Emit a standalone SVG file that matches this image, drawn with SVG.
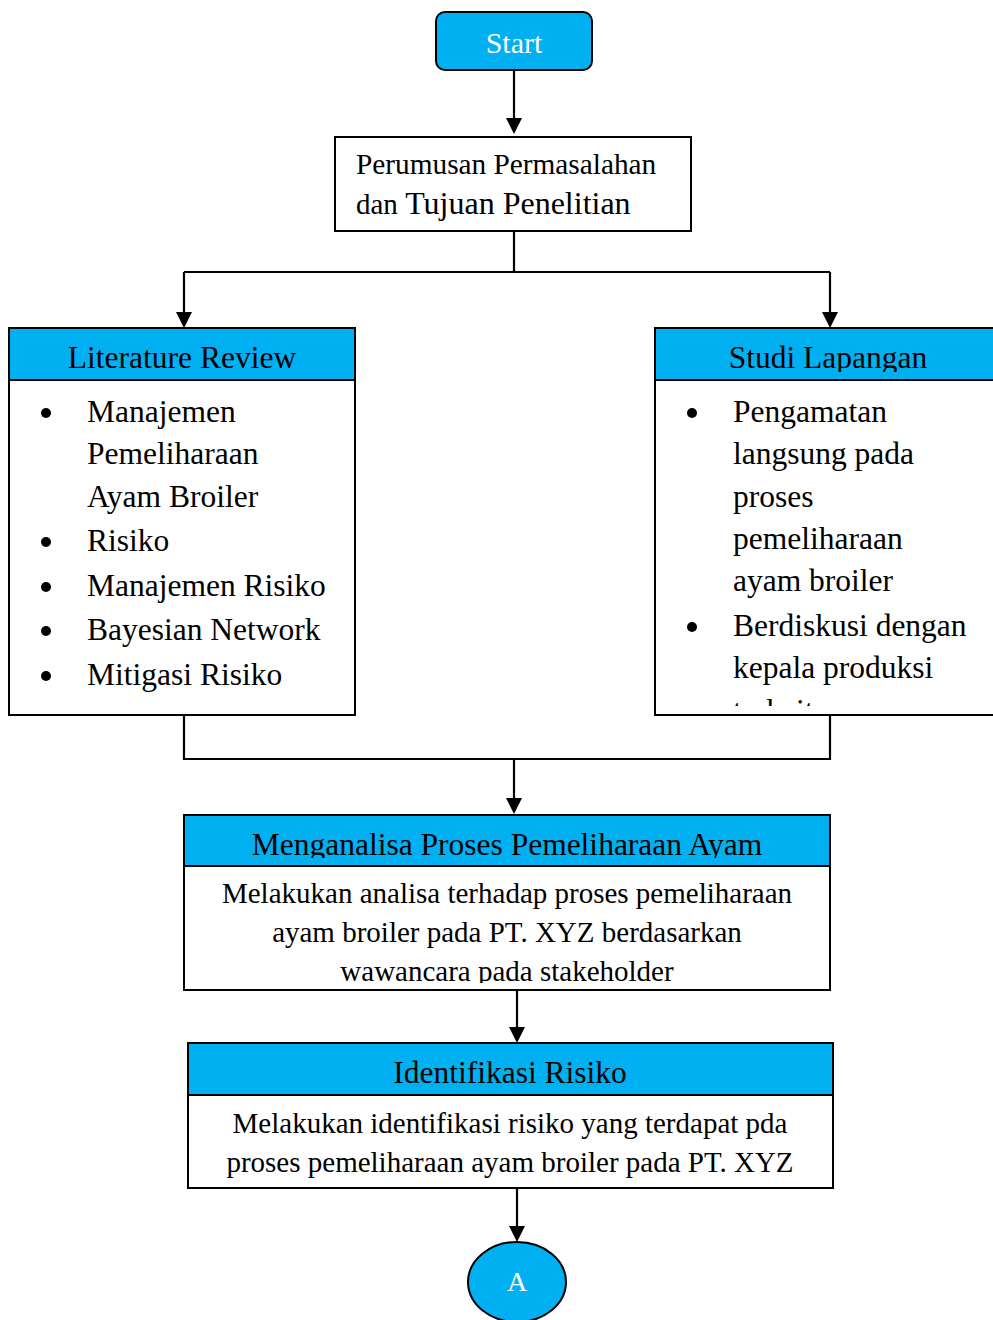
<svg xmlns="http://www.w3.org/2000/svg" width="993" height="1320" viewBox="0 0 993 1320">
<style>
text{font-family:"Liberation Serif","Times New Roman",serif;fill:#000}
.box{fill:#fff;stroke:#000;stroke-width:2}
.hdr{fill:#00b0f0;stroke:#000;stroke-width:2}
.h{font-size:31.5px;text-anchor:middle}
.b{font-size:31.5px}
.m{font-size:29px;text-anchor:middle}
.ln{fill:none;stroke:#000;stroke-width:2.2}
</style>
<defs>
<clipPath id="c0"><rect x="335" y="137" width="356" height="85"/></clipPath>
<clipPath id="c1"><rect x="655" y="328" width="340" height="44"/></clipPath>
<clipPath id="c2"><rect x="655" y="382" width="340" height="324"/></clipPath>
<clipPath id="c3"><rect x="184" y="815" width="646" height="43"/></clipPath>
<clipPath id="c4"><rect x="184" y="868" width="646" height="115"/></clipPath>
</defs>

<g id="connectors">
<path class="ln" d="M514,70 V118"/>
<path d="M506,118 L522,118 L514,134 Z"/>
<path class="ln" d="M514,231 V272 M184,272 H830 M184,272 V312 M830,272 V312"/>
<path d="M176,312 L192,312 L184,328 Z"/>
<path d="M822,312 L838,312 L830,328 Z"/>
<path class="ln" d="M184,715 V759 H830 V715 M514,759 V798"/>
<path d="M506,798 L522,798 L514,814 Z"/>
<path class="ln" d="M517,988 V1027"/>
<path d="M509,1027 L525,1027 L517,1043 Z"/>
<path class="ln" d="M517,1188 V1226"/>
<path d="M509,1226 L525,1226 L517,1242 Z"/>
</g>

<g id="start">
<rect x="436" y="12" width="156" height="58" rx="9" class="hdr"/>
<text x="514" y="53" style="font-size:30px;text-anchor:middle;fill:#fff">Start</text>
</g>

<g id="perumusan">
<rect x="335" y="137" width="356" height="94" class="box"/>
<g clip-path="url(#c0)">
<text x="356" y="174" style="font-size:29.3px">Perumusan Permasalahan</text>
<text x="356" y="214" style="font-size:29px">dan <tspan style="font-size:32px">Tujuan Penelitian</tspan></text>
</g>
</g>

<g id="literature">
<rect x="9" y="328" width="346" height="387" class="box"/>
<rect x="9" y="328" width="346" height="52" class="hdr"/>
<text x="182" y="368" class="h">Literature Review</text>
<g>
<circle cx="46" cy="413" r="5"/>
<circle cx="46" cy="542" r="5"/>
<circle cx="46" cy="587" r="5"/>
<circle cx="46" cy="631" r="5"/>
<circle cx="46" cy="676" r="5"/>
</g>
<text x="87" y="422" class="b">Manajemen</text>
<text x="87" y="464" class="b">Pemeliharaan</text>
<text x="87" y="507" class="b">Ayam Broiler</text>
<text x="87" y="551" class="b">Risiko</text>
<text x="87" y="596" class="b">Manajemen Risiko</text>
<text x="87" y="640" class="b">Bayesian Network</text>
<text x="87" y="685" class="b">Mitigasi Risiko</text>
</g>

<g id="studi">
<rect x="655" y="328" width="345" height="387" class="box"/>
<rect x="655" y="328" width="345" height="52" class="hdr"/>
<text x="828" y="368" class="h" clip-path="url(#c1)">Studi Lapangan</text>
<circle cx="692" cy="413" r="5"/>
<circle cx="692" cy="627" r="5"/>
<g clip-path="url(#c2)">
<text x="733" y="422" class="b">Pengamatan</text>
<text x="733" y="464" class="b">langsung pada</text>
<text x="733" y="507" class="b">proses</text>
<text x="733" y="549" class="b">pemeliharaan</text>
<text x="733" y="591" class="b">ayam broiler</text>
<text x="733" y="636" class="b">Berdiskusi dengan</text>
<text x="733" y="678" class="b">kepala produksi</text>
<text x="733" y="721" class="b">terkait</text>
</g>
</g>

<g id="menganalisa">
<rect x="184" y="815" width="646" height="175" class="box"/>
<rect x="184" y="815" width="646" height="51" class="hdr"/>
<text x="507" y="855" class="h" clip-path="url(#c3)">Menganalisa Proses Pemeliharaan Ayam</text>
<g clip-path="url(#c4)">
<text x="507" y="903" class="m">Melakukan analisa terhadap proses pemeliharaan</text>
<text x="507" y="942" class="m">ayam broiler pada PT. XYZ berdasarkan</text>
<text x="507" y="981" class="m">wawancara pada stakeholder</text>
</g>
</g>

<g id="identifikasi">
<rect x="188" y="1043" width="645" height="145" class="box"/>
<rect x="188" y="1043" width="645" height="52" class="hdr"/>
<text x="510" y="1083" class="h">Identifikasi Risiko</text>
<text x="510" y="1133" class="m">Melakukan identifikasi risiko yang terdapat pda</text>
<text x="510" y="1172" class="m">proses pemeliharaan ayam broiler pada PT. XYZ</text>
</g>

<g id="connector-a">
<ellipse cx="517" cy="1282" rx="49" ry="40" class="hdr"/>
<text x="517" y="1291" style="font-size:28px;text-anchor:middle;fill:#fff">A</text>
</g>
</svg>
